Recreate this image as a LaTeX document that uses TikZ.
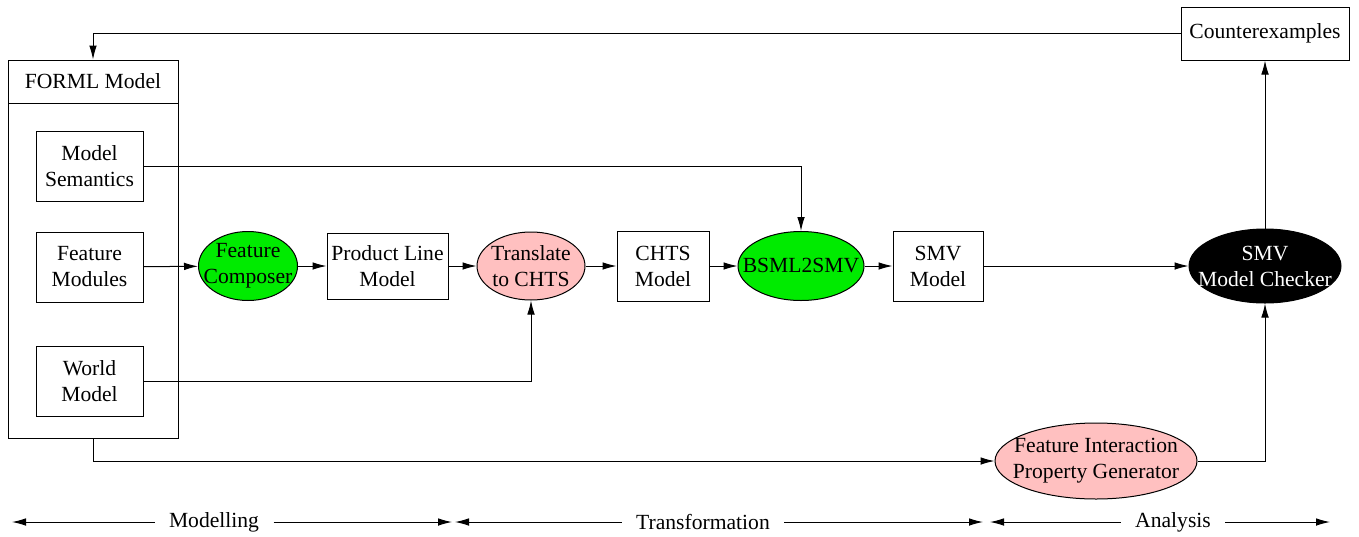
\documentclass[tikz,border=0pt]{standalone}
\usepackage{fontspec}
\setmainfont{Liberation Serif}
\usetikzlibrary{shapes.geometric,arrows.meta}

\definecolor{procgreen}{RGB}{0,235,0}
\definecolor{procpink}{RGB}{255,192,192}

\tikzset{
  txt/.style={align=center,font=\fontsize{10.8}{13}\selectfont},
  box/.style 2 args={draw,txt,minimum width=#1,minimum height=#2,inner sep=0pt},
  proc/.style n args={3}{draw,ellipse,inner sep=0pt,minimum width=#1,minimum height=#2,label={[txt]center:#3}},
  phase/.style={txt,inner xsep=7pt},
}

\begin{document}
\begin{tikzpicture}[x=0.5pt,y=-0.5pt,line width=0.5pt,>={Latex[length=7pt,width=3.8pt]}]
  \useasboundingbox (0,0) rectangle (1359,536);

  % FORML model
  \node[draw,minimum width=85pt,minimum height=189pt,inner sep=0pt] (forml) at (93,249) {};
  \node[box={85pt}{21.5pt},anchor=north] (formlhead) at (forml.north) {FORML Model};
  \node[box={53.5pt}{35pt}] (semantics) at (89.5,166) {Model\\Semantics};
  \node[box={53.5pt}{35pt}] (modules) at (89.5,267) {Feature\\Modules};
  \node[box={53.5pt}{35pt}] (world) at (89.5,381.5) {World\\Model};

  % tool chain
  \node[proc={49.5pt}{34.5pt}{Feature\\Composer},fill=procgreen] (composer) at (248,266) {};
  \node[box={60.5pt}{33pt}] (product) at (387.5,266) {Product Line\\Model};
  \node[proc={54pt}{34pt}{Translate\\to CHTS},fill=procpink] (translate) at (531,266) {};
  \node[box={46pt}{35pt}] (chts) at (663,266) {CHTS\\Model};
  \node[proc={63pt}{34.5pt}{BSML2SMV},fill=procgreen] (bsml) at (801,266) {};
  \node[box={45pt}{35pt}] (smv) at (938,266) {SMV\\Model};
  \node[proc={76pt}{37pt}{\textcolor{white}{SMV}\\\textcolor{white}{Model Checker}},fill=black] (checker) at (1265,266) {};
  \node[box={84pt}{26.5pt}] (counter) at (1265,33.5) {Counterexamples};
  \node[proc={101pt}{38pt}{Feature Interaction\\Property Generator},fill=procpink] (fipg) at (1096,461) {};

  \path[->]
  (modules) edge (composer)
  (composer) edge (product)
  (product) edge (translate)
  (translate) edge (chts)
  (chts) edge (bsml)
  (bsml) edge (smv)
  (smv) edge (checker)
  ;
  \draw[->] (semantics) -| (bsml);
  \draw[->] (world) -| (translate);
  \draw[->] (forml) |- (fipg);
  \draw[->] (fipg) -| (checker);
  \draw[->] (checker) -- (counter);
  \draw[->] (counter) -| (formlhead);

  % phases
  \node[phase] (modelling) at (214,522) {Modelling};
  \node[phase] (transformation) at (703,522) {Transformation};
  \node[phase] (analysis) at (1173,522) {Analysis};
  \coordinate (modL) at (12,522);
  \coordinate (modR) at (452,522);
  \coordinate (traL) at (455,522);
  \coordinate (traR) at (983,522);
  \coordinate (anaL) at (990,522);
  \coordinate (anaR) at (1330,522);
  \draw[->] (modelling.west) -- (modL);
  \draw[->] (modelling.east) -- (modR);
  \draw[->] (transformation.west) -- (traL);
  \draw[->] (transformation.east) -- (traR);
  \draw[->] (analysis.west) -- (anaL);
  \draw[->] (analysis.east) -- (anaR);
\end{tikzpicture}
\end{document}
